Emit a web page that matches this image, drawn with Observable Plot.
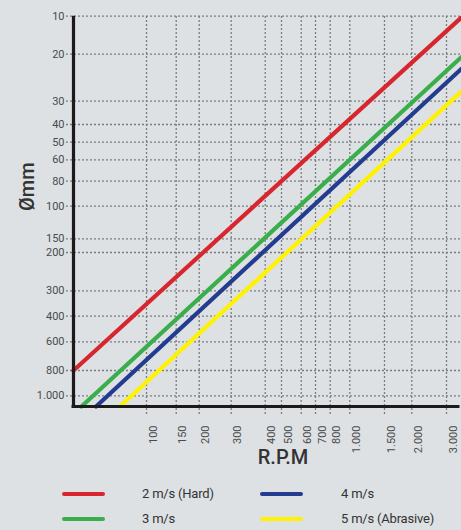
<!DOCTYPE html>
<html>
<head>
<meta charset="utf-8">
<script src="https://cdn.jsdelivr.net/npm/d3@7"></script>
<script src="https://cdn.jsdelivr.net/npm/@observablehq/plot@0.6"></script>
<style>
  html, body { margin: 0; padding: 0; background: #dde1e4; }
  #wrap { position: relative; width: 461px; height: 530px; overflow: hidden;
          font-family: Roboto, "Liberation Sans", sans-serif; }
  #chart svg { display: block; background: transparent; }
  .sw { position: absolute; width: 43px; height: 4px; border-radius: 2px; }
  .lt { position: absolute; font-size: 13px; color: #333; line-height: 14px; white-space: nowrap; letter-spacing: -0.2px; }
</style>
</head>
<body>
<div id="wrap"><div id="chart"></div><div id="legend"></div></div>
<script>
// ---- data ----
const rpmTicks = [100, 150, 200, 300, 400, 500, 600, 700, 800, 1000, 1500, 2000, 3000];
const diaTicks = [10, 20, 30, 40, 50, 60, 80, 100, 150, 200, 300, 400, 600, 800, 1000];
const series   = ["2 m/s (Hard)", "3 m/s", "4 m/s", "5 m/s (Abrasive)"];
const colors   = ["#d8262e", "#3aae4a", "#233c90", "#fff200"];
const rpmStart = [45, 51, 62, 80];
const diaStart = [800, 1200, 1200, 1200];
const rpmEnd   = [3500, 3500, 3500, 3500];
const diaEnd   = [10.3, 20.6, 23.1, 27.9];
const rpmMin = 45, rpmMax = 3500, diaMin = 10, diaMax = 1200;

// ---- build table ----
const lines = [];
series.forEach((s, i) => {
  lines.push({series: s, rpm: rpmStart[i], dia: diaStart[i]});
  lines.push({series: s, rpm: rpmEnd[i], dia: diaEnd[i]});
});
const euro = d3.formatLocale({decimal: ",", thousands: ".", grouping: [3]}).format(",");
const fmt = d => d >= 1000 ? euro(d) : String(d);

const chart = Plot.plot({
  width: 461,
  height: 475,
  marginLeft: 66,
  marginRight: 0,
  marginTop: 16,
  marginBottom: 60,
  style: {background: "transparent", fontFamily: "Roboto, 'Liberation Sans', sans-serif"},
  // the reference's axes are hand-spaced, so both are piecewise scales through the tick values
  x: {type: "linear", domain: [rpmMin, ...rpmTicks, rpmMax],
      range: [73, 146, 175.7, 198.7, 230.7, 264.7, 281, 300.7, 315, 329.7, 349.3, 384, 411.3, 446, 461], axis: null},
  y: {type: "linear", domain: [...diaTicks, diaMax],
      range: [15.7, 53.7, 100.7, 124, 141.7, 159.3, 180.7, 205.7, 238.3, 252, 290.3, 315.7, 341.3, 370, 395.3, 406], axis: null},
  color: {domain: series, range: colors},
  marks: [
    Plot.ruleY(diaTicks, {y: d => d, stroke: "#7a7d80", strokeWidth: 1.3, strokeDasharray: "2,2"}),
    Plot.ruleX(rpmTicks, {x: d => d, stroke: "#7a7d80", strokeWidth: 1.3, strokeDasharray: "2,2"}),
    Plot.line(lines, {x: "rpm", y: "dia", z: "series", stroke: "series", strokeWidth: 4.2, clip: true}),
    Plot.ruleX([rpmMin], {y1: diaMin, y2: diaMax, stroke: "#1d1a1a", strokeWidth: 3.2}),
    Plot.ruleY([diaMax], {x1: rpmMin, x2: rpmMax, stroke: "#1d1a1a", strokeWidth: 3.2, dx: -1.5}),
    Plot.axisY(diaTicks, {tickSize: 0, tickPadding: 2, tickFormat: fmt, label: null, fontSize: 11, fill: "#4a4a4a"}),
    Plot.text(rpmTicks, {x: d => d, text: fmt, frameAnchor: "bottom", rotate: -90, textAnchor: "end",
                         dx: 10, dy: 10, fontSize: 11, fill: "#4a4a4a"}),
    Plot.text(["R.P.M"], {frameAnchor: "bottom", dx: 19, dy: 48, fontSize: 20, fontWeight: 500, fill: "#333", letterSpacing: -1}),
    Plot.text(["Ømm"], {frameAnchor: "left", rotate: -90, dx: -39, dy: -5, fontSize: 20, fontWeight: 500, fill: "#333"})
  ]
});
document.getElementById("chart").appendChild(chart);

// ---- legend ----
const legend = document.getElementById("legend");
const colSw = [62, 260], colTx = [142, 341], rowY = [494, 519];
const place = [[0, 0], [0, 1], [1, 0], [1, 1]]; // [col,row] for each series
series.forEach((s, i) => {
  const [c, r] = place[i];
  const sw = document.createElement("div");
  sw.className = "sw";
  sw.style.left = colSw[c] + "px";
  sw.style.top = (rowY[r] - 2) + "px";
  sw.style.background = colors[i];
  legend.appendChild(sw);
  const t = document.createElement("div");
  t.className = "lt";
  t.textContent = s;
  t.style.left = colTx[c] + "px";
  t.style.top = (rowY[r] - 7) + "px";
  legend.appendChild(t);
});
</script>
</body>
</html>
